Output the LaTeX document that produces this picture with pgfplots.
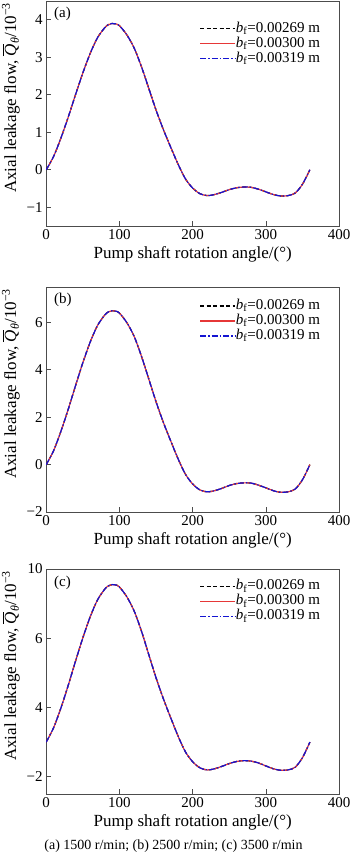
\documentclass[border=0pt]{standalone}
\usepackage{fontspec}
\setmainfont{Liberation Serif}
\usepackage{pgfplots}
\usepackage{pgfplotstable}
\pgfplotsset{compat=1.18}

% (a) 1500 r/min
\pgfplotstableread{
x y
0 0
10 0.35
20 0.84
30 1.40
40 2.00
50 2.58
60 3.10
70 3.52
80 3.79
85 3.87
90 3.90
95 3.89
100 3.84
110 3.60
120 3.25
130 2.75
140 2.17
150 1.59
160 1.07
170 0.60
180 0.15
190 -0.24
200 -0.49
210 -0.64
220 -0.69
230 -0.66
240 -0.60
250 -0.53
260 -0.48
270 -0.46
280 -0.47
290 -0.52
300 -0.59
310 -0.66
320 -0.70
330 -0.69
340 -0.62
350 -0.38
360 0
}\dataA

% (b) 2500 r/min
\pgfplotstableread{
x y
0 0
10 0.58
20 1.40
30 2.33
40 3.33
50 4.30
60 5.17
70 5.87
80 6.32
85 6.45
90 6.50
95 6.48
100 6.40
110 6.00
120 5.42
130 4.58
140 3.62
150 2.65
160 1.78
170 1.00
180 0.25
190 -0.40
200 -0.82
210 -1.07
220 -1.15
230 -1.10
240 -1.00
250 -0.88
260 -0.80
270 -0.77
280 -0.78
290 -0.87
300 -0.98
310 -1.10
320 -1.17
330 -1.15
340 -1.03
350 -0.63
360 0
}\dataB

% (c) 3500 r/min
\pgfplotstableread{
x y
0 0
10 0.82
20 1.96
30 3.27
40 4.67
50 6.02
60 7.23
70 8.21
80 8.84
85 9.03
90 9.10
95 9.08
100 8.96
110 8.40
120 7.58
130 6.42
140 5.06
150 3.71
160 2.50
170 1.40
180 0.35
190 -0.56
200 -1.14
210 -1.49
220 -1.61
230 -1.54
240 -1.40
250 -1.24
260 -1.12
270 -1.07
280 -1.10
290 -1.21
300 -1.38
310 -1.54
320 -1.63
330 -1.61
340 -1.45
350 -0.89
360 0
}\dataC

\definecolor{myred}{RGB}{230,55,55}
\definecolor{myblue}{RGB}{20,20,210}
\newcommand{\fs}{\fontsize{15}{15}\selectfont}
\newcommand{\fl}{\fontsize{17}{17}\selectfont}

\pgfplotsset{
  panel/.style={
    scale only axis, width=293pt, height=225pt,
    xmin=0, xmax=400,
    xtick={0,100,200,300,400}, xticklabels={0,100,200,300,400},
    tick align=inside, tick pos=left,
    major tick length=5pt,
    axis line style={black!70, line width=0.8pt},
    tick style={black!70, line width=0.8pt},
    every tick label/.append style={font=\fs, text=black},
    xlabel style={font=\fl},
    ylabel style={font=\fl, at={(ticklabel cs:0.57)}},
    xlabel={Pump shaft rotation angle/(°)},
    ylabel={Axial leakage flow, $\overline{\hbox{\textit{Q}}}$\textsubscript{\textit{θ}}/10\textsuperscript{−3}},
    legend cell align=left,
    legend style={draw=none, fill=none, font=\fs, anchor=north east,
      row sep=1pt, inner sep=0pt,
      nodes={inner sep=0pt, text height=10.5pt, text depth=3.5pt}},
    legend image code/.code={\draw[##1] (0pt,0pt) -- (35pt,0pt);},
  },
  sa/.style={black, line width=1.2pt, dash pattern=on 4pt off 2.5pt, smooth},
  sb/.style={myred, line width=1.2pt, solid, smooth},
  sc/.style={myblue, line width=1.2pt, dash pattern=on 6pt off 2pt on 1.5pt off 2pt, smooth},
}

\begin{document}
\begin{tikzpicture}
\path[use as bounding box] (1.5pt,0pt) rectangle (351.5pt,-856pt);

\begin{axis}[panel, at={(47.7pt,-1pt)}, anchor=north west,
  ymin=-1.5, ymax=4.5, ytick={-1,0,1,2,3,4}, yticklabels={−1,0,1,2,3,4},
  legend style={at={(axis description cs:0.935,0.908)}}]
\addplot[sa] table[x=x,y=y] {\dataA};
\addplot[sb] table[x=x,y=y] {\dataA};
\addplot[sc] table[x=x,y=y] {\dataA};
\legend{\textit{b}\textsubscript{f}=0.00269 m, \textit{b}\textsubscript{f}=0.00300 m, \textit{b}\textsubscript{f}=0.00319 m}
\node[anchor=west, font=\fs] at (rel axis cs:0.015,0.942) {(a)};
\end{axis}

\begin{axis}[panel, at={(47.7pt,-287pt)}, anchor=north west,
  ymin=-2, ymax=7.5, ytick={-2,0,2,4,6}, yticklabels={−2,0,2,4,6},
  legend style={at={(axis description cs:0.935,0.948)}}]
\addplot[sa] table[x=x,y=y] {\dataB};
\addplot[sb] table[x=x,y=y] {\dataB};
\addplot[sc] table[x=x,y=y] {\dataB};
\legend{\textit{b}\textsubscript{f}=0.00269 m, \textit{b}\textsubscript{f}=0.00300 m, \textit{b}\textsubscript{f}=0.00319 m}
\node[anchor=west, font=\fs] at (rel axis cs:0.015,0.942) {(b)};
\end{axis}

\begin{axis}[panel, at={(47.7pt,-569pt)}, anchor=north west,
  ymin=-3, ymax=10, ytick={-2,2,6,10}, yticklabels={−2,4,6,10},
  legend style={at={(axis description cs:0.935,0.955)}}]
\addplot[sa] table[x=x,y=y] {\dataC};
\addplot[sb] table[x=x,y=y] {\dataC};
\addplot[sc] table[x=x,y=y] {\dataC};
\legend{\textit{b}\textsubscript{f}=0.00269 m, \textit{b}\textsubscript{f}=0.00300 m, \textit{b}\textsubscript{f}=0.00319 m}
\node[anchor=west, font=\fs] at (rel axis cs:0.015,0.938) {(c)};
\end{axis}

\node[font=\fontsize{14}{14}\selectfont] at (175pt,-846pt) {(a) 1500 r/min; (b) 2500 r/min; (c) 3500 r/min};
\end{tikzpicture}
\end{document}
